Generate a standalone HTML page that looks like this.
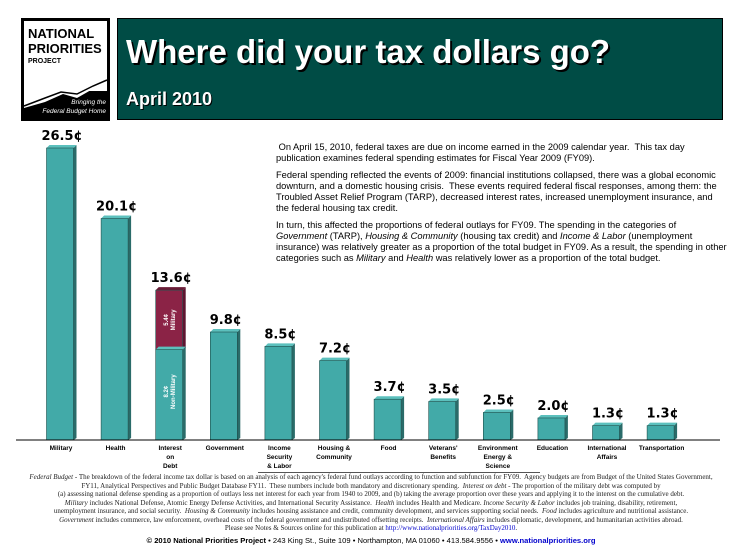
<!DOCTYPE html>
<html><head><meta charset="utf-8"><style>
body{margin:0;width:742px;height:556px;background:#fff;position:relative;overflow:hidden;font-family:"Liberation Sans",sans-serif}
.abs{position:absolute}
#desc p{margin:0 0 6px 0}
#notes{font-family:"Liberation Serif",serif;font-size:7px;line-height:8.5px;text-align:center;color:#222;white-space:nowrap}
</style></head><body>
<div class="abs" style="left:21px;top:18px;width:89px;height:103px;background:#000">
 <div class="abs" style="left:3px;top:3px;width:83px;height:70px;background:#fff"></div>
 <svg class="abs" style="left:0;top:0" width="89" height="103"><polygon points="3,73 24,66 40,60 56,62 72,54 86,48 86,67 70,72 56,80 42,76 24,84 3,90" fill="#fff"/><polyline points="3,88 24,80 40,74 56,76 72,68 86,62" fill="none" stroke="#000" stroke-width="1.5"/></svg>
 <div class="abs" style="left:7px;top:8px;font-weight:bold;font-size:13px;line-height:15px;color:#000">NATIONAL<br>PRIORITIES</div>
 <div class="abs" style="left:7px;top:40px;font-weight:bold;font-size:7px;color:#000">PROJECT</div>
 <div class="abs" style="right:4px;top:80px;font-style:italic;font-size:6.5px;color:#fff;text-align:right;line-height:9px">Bringing the<br>Federal Budget Home</div>
</div>
<div class="abs" style="left:117px;top:18px;width:606px;height:102px;background:#004c45;border:1px solid #000;box-sizing:border-box">
 <div class="abs" style="left:8px;top:14px;font-weight:bold;font-size:33px;color:#fff;text-shadow:2px 2px 0 #000;white-space:nowrap">Where did your tax dollars go?</div>
 <div class="abs" style="left:8px;top:70px;font-weight:bold;font-size:18px;color:#fff;text-shadow:1px 1px 0 #000">April 2010</div>
</div>
<div id="desc" class="abs" style="left:276px;top:142px;width:452px;font-size:9.3px;line-height:11px;color:#000">
<p>&nbsp;On April 15, 2010, federal taxes are due on income earned in the 2009 calendar year.&nbsp; This tax day publication examines federal spending estimates for Fiscal Year 2009 (FY09).</p>
<p>Federal spending reflected the events of 2009: financial institutions collapsed, there was a global economic downturn, and a domestic housing crisis.&nbsp; These events required federal fiscal responses, among them: the Troubled Asset Relief Program (TARP), decreased interest rates, increased unemployment insurance, and the federal housing tax credit.</p>
<p>In turn, this affected the proportions of federal outlays for FY09. The spending in the categories of <i>Government</i> (TARP), <i>Housing &amp; Community</i> (housing tax credit) and <i>Income &amp; Labor</i> (unemployment insurance) was relatively greater as a proportion of the total budget in FY09. As a result, the spending in other categories such as <i>Military</i> and <i>Health</i> was relatively lower as a proportion of the total budget.</p>
</div>
<svg id="chart" class="abs" style="left:0;top:0" width="742" height="475"></svg>
<div class="abs" style="left:258px;top:472px;width:282px;height:1px;background:#555"></div>
<div id="notes" class="abs" style="left:0;top:473px;width:742px">
<i>Federal Budget</i> - The breakdown of the federal income tax dollar is based on an analysis of each agency's federal fund outlays according to function and subfunction for FY09.&nbsp; Agency budgets are from Budget of the United States Government,<br>FY11, Analytical Perspectives and Public Budget Database FY11.&nbsp; These numbers include both mandatory and discretionary spending.&nbsp; <i>Interest on debt</i> - The proportion of the military debt was computed by<br>(a) assessing national defense spending as a proportion of outlays less net interest for each year from 1940 to 2009, and (b) taking the average proportion over these years and applying it to the interest on the cumulative debt.<br><i>Military</i> includes National Defense, Atomic Energy Defense Activities, and International Security Assistance.&nbsp; <i>Health</i> includes Health and Medicare. <i>Income Security &amp; Labor</i> includes job training, disability, retirement,<br>unemployment insurance, and social security.&nbsp; <i>Housing &amp; Community</i> includes housing assistance and credit, community development, and services supporting social needs.&nbsp; <i>Food</i> includes agriculture and nutritional assistance.<br><i>Government</i> includes commerce, law enforcement, overhead costs of the federal government and undistributed offsetting receipts.&nbsp; <i>International Affairs</i> includes diplomatic, development, and humanitarian activities abroad.<br>Please see Notes &amp; Sources online for this publication at <span style="color:#00c">http://www.nationalpriorities.org/TaxDay2010</span>.
</div>
<div class="abs" style="left:0;top:536px;width:742px;text-align:center;font-size:7.6px;color:#000"><b>© 2010 National Priorities Project</b> • 243 King St., Suite 109 • Northampton, MA 01060 • 413.584.9556 • <b style="color:#00c">www.nationalpriorities.org</b></div>
<script>
const categories=[["Military"],["Health"],["Interest","on","Debt"],["Government"],["Income","Security","& Labor"],["Housing &","Community"],["Food"],["Veterans'","Benefits"],["Environment","Energy &","Science"],["Education"],["International","Affairs"],["Transportation"]];
const values=[26.5,20.1,13.6,9.8,8.5,7.2,3.7,3.5,2.5,2.0,1.3,1.3];
const interestNonMilitary=8.2;
const interestMilitary=5.4;
const svg=document.getElementById('chart');
const NS='http://www.w3.org/2000/svg';
const base=440, scale=292/26.5, x0=60, step=54.6, bw=27;
const yOf=v=>base-v*scale;
const xOf=i=>x0+i*step;
function mk(t,a){const e=document.createElementNS(NS,t);for(const k in a)e.setAttribute(k,a[k]);svg.appendChild(e);return e;}
function bar3d(x,yt,yb,col,side,top,name){
  const s=mk('polygon',{points:`${x+bw},${yt} ${x+bw+3},${yt-3} ${x+bw+3},${yb-2} ${x+bw},${yb}`,fill:side});
  
  
  const t=mk('polygon',{points:`${x},${yt} ${x+3},${yt-3} ${x+bw+3},${yt-3} ${x+bw},${yt}`,fill:top});
  
  
  const r=mk('rect',{x:x,y:yt,width:bw,height:yb-yt,fill:col,stroke:'#1e4f4c','stroke-width':0.6});
  
  
}
values.forEach((v,i)=>{
  const cx=xOf(i), x=cx-bw/2;
  if(i===2){
    bar3d(x,yOf(interestNonMilitary+interestMilitary),yOf(interestNonMilitary),'#8b2346','#5e1530','#6a1a35','bar-interest-military');
    bar3d(x,yOf(interestNonMilitary),base,'#42aaa8','#2a6b69','#5cc0bd','bar-interest-non-military');
    const t1=mk('text',{x:0,y:0,transform:`translate(${cx},${(yOf(13.6)+yOf(8.2))/2}) rotate(-90)`,'text-anchor':'middle','font-size':6,'font-weight':'bold',fill:'#fff','font-family':'Liberation Sans'});
    
    
    t1.innerHTML=`<tspan x="0" dy="-1">${interestMilitary}¢</tspan><tspan x="0" dy="7">Military</tspan>`;
    const t2=mk('text',{x:0,y:0,transform:`translate(${cx},${yOf(8.2)+42}) rotate(-90)`,'text-anchor':'middle','font-size':6,'font-weight':'bold',fill:'#fff','font-family':'Liberation Sans'});
    
    
    t2.innerHTML=`<tspan x="0" dy="-1">${interestNonMilitary}¢</tspan><tspan x="0" dy="7">Non-Military</tspan>`;
  } else {
    bar3d(x,yOf(v),base,'#42aaa8','#2a6b69','#5cc0bd','bar-'+categories[i][0].toLowerCase().replace(/[^a-z]/g,''));
  }
  const vl=mk('text',{x:cx+2,y:yOf(v)-8,'text-anchor':'middle','font-size':13,'font-weight':'bold',fill:'#000','font-family':'DejaVu Sans'});
  
  
  vl.textContent=v.toFixed(1)+'¢';
  const cl=mk('text',{x:cx+1,y:base+10,'text-anchor':'middle','font-size':6.5,'font-weight':'bold',fill:'#000','font-family':'Liberation Sans'});
  
  
  cl.innerHTML=categories[i].map((s,j)=>`<tspan x="${cx+1}" dy="${j?9:0}">${s}</tspan>`).join('');
});
const ax=mk('line',{x1:16,x2:720,y1:base,y2:base,stroke:'#000','stroke-width':1});


</script>
</body></html>
